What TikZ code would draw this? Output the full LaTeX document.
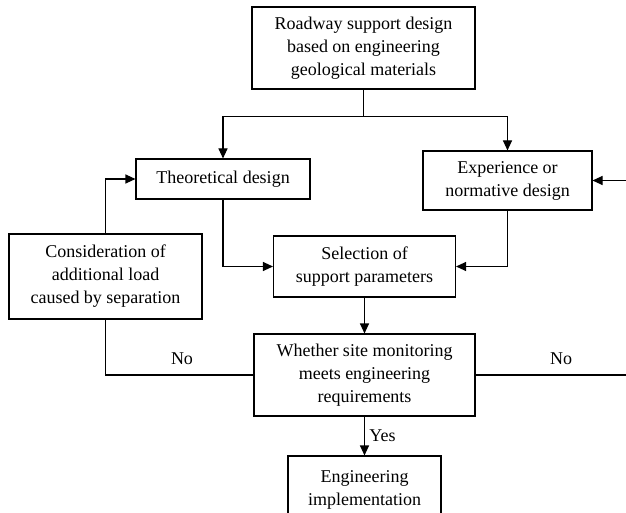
\documentclass[tikz,border=0pt]{standalone}
\usepackage{fontspec}
\setmainfont{Liberation Serif}
\usetikzlibrary{arrows.meta}
\begin{document}
\begin{tikzpicture}[
    x=1pt, y=-1pt,
    box/.style={rectangle, draw, line width=1.1pt, inner sep=0pt, align=center,
        font=\fontsize{18}{23}\selectfont},
    arrow/.style={-{Triangle[length=10pt,width=9pt]}, line width=1.1pt},
    link/.style={line width=1.1pt},
    lbl/.style={font=\fontsize{18}{23}\selectfont},
]
\useasboundingbox (0,0) rectangle (626,513);
\clip (0,0) rectangle (626,513);

% Boxes
\node[box, minimum width=223pt, minimum height=82pt] (roadway) at (363.5,48)
    {Roadway support design\\based on engineering\\geological materials};
\node[box, minimum width=174pt, minimum height=40pt] (theory) at (223,179)
    {Theoretical design};
\node[box, minimum width=169pt, minimum height=59pt] (experience) at (507.5,180.5)
    {Experience or\\normative design};
\node[box, minimum width=193pt, minimum height=85pt] (extraload) at (105.5,276.5)
    {Consideration of\\additional load\\caused by separation};
\node[box, minimum width=182pt, minimum height=61pt] (selection) at (364.5,266.5)
    {Selection of\\support parameters};
\node[box, minimum width=221pt, minimum height=82pt] (monitor) at (364.5,375)
    {Whether site monitoring\\meets engineering\\requirements};
\node[box, minimum width=153pt, minimum height=80pt, text depth=16pt] (implement) at (364.5,496)
    {Engineering\\implementation};
\coordinate (rightout) at (660,375);

% Connections
\draw[link] (roadway.south) -- ++(0,27) coordinate (split);
\draw[arrow] (split) -| (theory.north);
\draw[arrow] (split) -| (experience.north);
\draw[arrow] (theory.south) |- (selection.west);
\draw[arrow] (experience.south) |- (selection.east);
\draw[arrow] (selection.south) -- (monitor.north);
\draw[arrow] (monitor.south) -- (implement.north)
    node[lbl, midway, right, xshift=1pt] {Yes};
\draw[link] (monitor.west) -| (extraload.south);
\draw[arrow] (extraload.north) |- (theory.west);
\draw[arrow] (monitor.east) -- (rightout) |- (experience.east);

% Labels
\node[lbl] (noleft) at (182,359) {No};
\node[lbl] (noright) at (561,359) {No};

\end{tikzpicture}
\end{document}
